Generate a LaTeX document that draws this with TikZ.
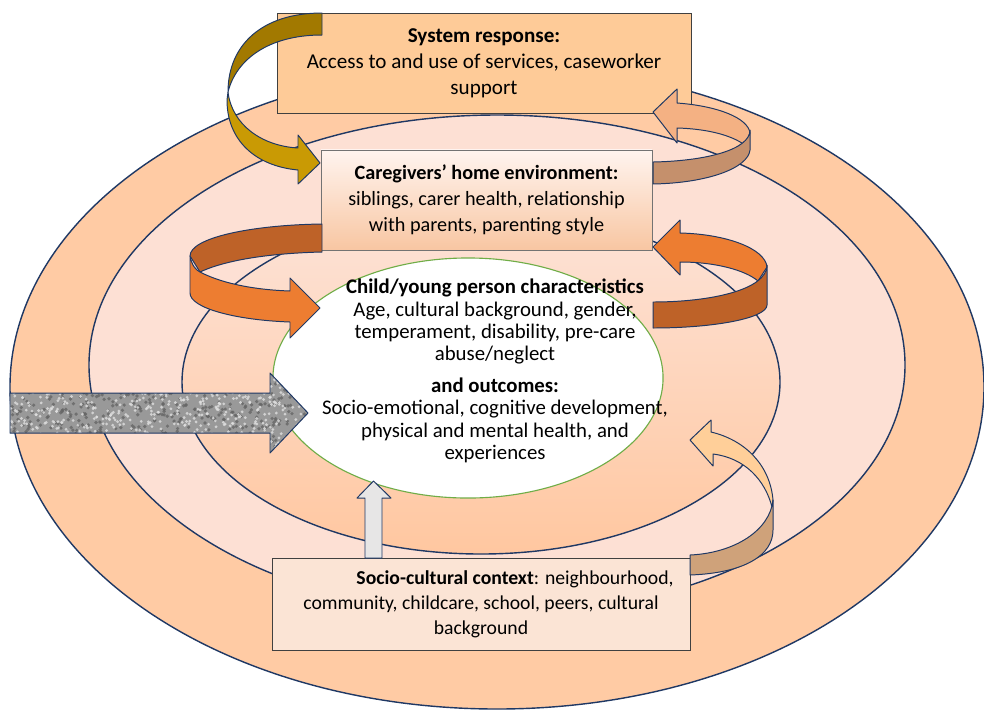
\documentclass[tikz,border=0pt]{standalone}
\usepackage{fontspec}
\setmainfont{Carlito}
\usepackage{tikz}
\usetikzlibrary{shapes.geometric}

\definecolor{navy}{HTML}{1F3864}
\definecolor{ringout}{HTML}{FFCBA4}
\definecolor{ringmid}{HTML}{FDE0D4}
\definecolor{ringtop}{HTML}{FDE3D8}
\definecolor{ringlow}{HTML}{FFC7A0}
\definecolor{childline}{HTML}{70AD47}
\definecolor{sysfill}{HTML}{FECB98}
\definecolor{caretop}{HTML}{FFF4EF}
\definecolor{carelow}{HTML}{F8C6A2}
\definecolor{sociofill}{HTML}{FBE4D5}
\definecolor{golddark}{HTML}{A27900}
\definecolor{goldlight}{HTML}{C99A04}
\definecolor{tanlight}{HTML}{F4B183}
\definecolor{tandark}{HTML}{C5906C}
\definecolor{orlight}{HTML}{ED7D31}
\definecolor{ordark}{HTML}{BE6228}
\definecolor{peachlight}{HTML}{FFCF99}
\definecolor{peachdark}{HTML}{CFA27A}
\definecolor{upgray}{HTML}{E7E6E6}

\tikzset{
	ring/.style={draw=navy, line width=1pt},
	infobox/.style={draw=black!75, line width=0.6pt, inner sep=0pt, align=center,
		font=\fontsize{15}{18.5}\selectfont},
	ribbon/.style={draw=navy, line width=0.7pt, line join=round},
}

\begin{document}
\begin{tikzpicture}[x=0.025cm, y=-0.025cm]
	\useasboundingbox (0,0) rectangle (984,712);

	% rings
	\draw[ring, fill=ringout] (497,387) ellipse [x radius=487, y radius=322];
	\draw[ring, fill=ringmid] (497,365) ellipse [x radius=408, y radius=250];
	\shade[top color=ringtop, bottom color=ringlow] (481,382) ellipse [x radius=299, y radius=172];
	\draw[ring] (481,382) ellipse [x radius=299, y radius=172];
	\node[ellipse, draw=childline, line width=0.8pt, fill=white, minimum width=9.75cm, minimum height=6cm] (child) at (468,378) {};

	% wider influences
	\begin{scope}
		\clip (10,393) -- (270,393) -- (270,373) -- (308,413) -- (270,453) -- (270,433) -- (10,433) -- cycle;
		\fill[black!40] (0,360) rectangle (320,460);
		\pgfmathsetseed{11}
		\foreach \i in {1,...,500}
			\fill[black!60, opacity=0.8] (10+300*rnd, 372+82*rnd) circle (1.3pt);
		\foreach \i in {1,...,600}
			\fill[white!88!black, opacity=0.8] (10+300*rnd, 372+82*rnd) circle (1.1pt);
	\end{scope}
	\draw[ribbon] (10,393) -- (270,393) -- (270,373) -- (308,413) -- (270,453) -- (270,433) -- (10,433) -- cycle;

	% boxes
	\node[infobox, fill=sysfill, minimum width=10.35cm, minimum height=2.5cm] (sys) at (484,63)
		{\textbf{System response:}\\ Access to and use of services, caseworker\\ support};
	\node[infobox, draw=black!55, top color=caretop, bottom color=carelow, minimum width=8.275cm, minimum height=2.5cm,
		font=\fontsize{14.4}{18.5}\selectfont] (care) at (486.5,200)
		{\textbf{Caregivers’ home environment:}\\ siblings, carer health, relationship\\ with parents, parenting style};
	\node[infobox, fill=sociofill, minimum width=10.45cm, minimum height=2.3cm,
		font=\fontsize{14}{17.8}\selectfont] (socio) at (481,604)
		{\hspace*{1.7cm}\textbf{Socio-cultural context}: neighbourhood,\\ community, childcare, school, peers, cultural\\ background};
	\node[align=center, font=\fontsize{14.8}{15.8}\selectfont] (childtext) at (495,371)
		{\textbf{Child/young person characteristics}\\ Age, cultural background, gender,\\ temperament, disability, pre-care\\ abuse/neglect\\[7pt]
		\textbf{and outcomes:}\\ Socio-emotional, cognitive development,\\ physical and mental health, and\\ experiences};

	% system -> caregivers
	\filldraw[ribbon, fill=golddark] (322,13) .. controls (262,13) and (228,45) .. (228,92)
		.. controls (236,60) and (268,35) .. (322,35) -- cycle;
	\filldraw[ribbon, fill=goldlight] (228,92) .. controls (232,125) and (262,146) .. (298,148) -- (298,135) -- (320,163)
		-- (298,184) -- (298,170) .. controls (255,166) and (227,140) .. (227,100) -- cycle;

	% caregivers -> system
	\filldraw[ribbon, fill=tanlight] (653,112) -- (677,89) -- (677,103) .. controls (718,106) and (748,118) .. (750,133)
		-- (746,146) .. controls (735,137) and (712,129) .. (677,128) -- (677,143) -- cycle;
	\filldraw[ribbon, fill=tandark] (750,130) .. controls (750,150) and (705,161) .. (653,162) -- (653,184)
		.. controls (708,183) and (748,168) .. (750,150) -- cycle;

	% child -> caregivers
	\filldraw[ribbon, fill=orlight] (653,247) -- (680,220) -- (680,233) .. controls (725,234) and (765,248) .. (767,267)
		-- (758,281) .. controls (745,270) and (715,262) .. (680,262) -- (680,275) -- cycle;
	\filldraw[ribbon, fill=ordark] (767,265) .. controls (767,290) and (710,302) .. (653,302) -- (653,328)
		.. controls (715,328) and (767,318) .. (767,305) -- cycle;

	% caregivers -> child
	\filldraw[ribbon, fill=ordark] (322,224) .. controls (250,225) and (190,238) .. (190,256) -- (200,272)
		.. controls (230,258) and (280,253) .. (322,252) -- cycle;
	\filldraw[ribbon, fill=orlight] (190,256) .. controls (192,266) and (196,270) .. (200,272)
		.. controls (225,285) and (260,290) .. (290,291) -- (290,278) -- (320,308) -- (290,338) -- (290,322)
		.. controls (235,320) and (190,308) .. (190,293) -- cycle;

	% socio -> child
	\filldraw[ribbon, fill=peachlight] (690,440) -- (711,420) -- (711,432) .. controls (745,440) and (770,465) .. (773,500)
		-- (772,507) .. controls (765,480) and (745,458) .. (713,454) -- (713,466) -- cycle;
	\filldraw[ribbon, fill=peachdark] (773,500) .. controls (770,530) and (735,553) .. (690,555) -- (690,575)
		.. controls (745,573) and (773,555) .. (773,530) -- cycle;
	\filldraw[ribbon, fill=upgray] (365,558) -- (365,498) -- (357,498) -- (373.5,481) -- (391,498) -- (382,498) -- (382,558) -- cycle;
\end{tikzpicture}
\end{document}
